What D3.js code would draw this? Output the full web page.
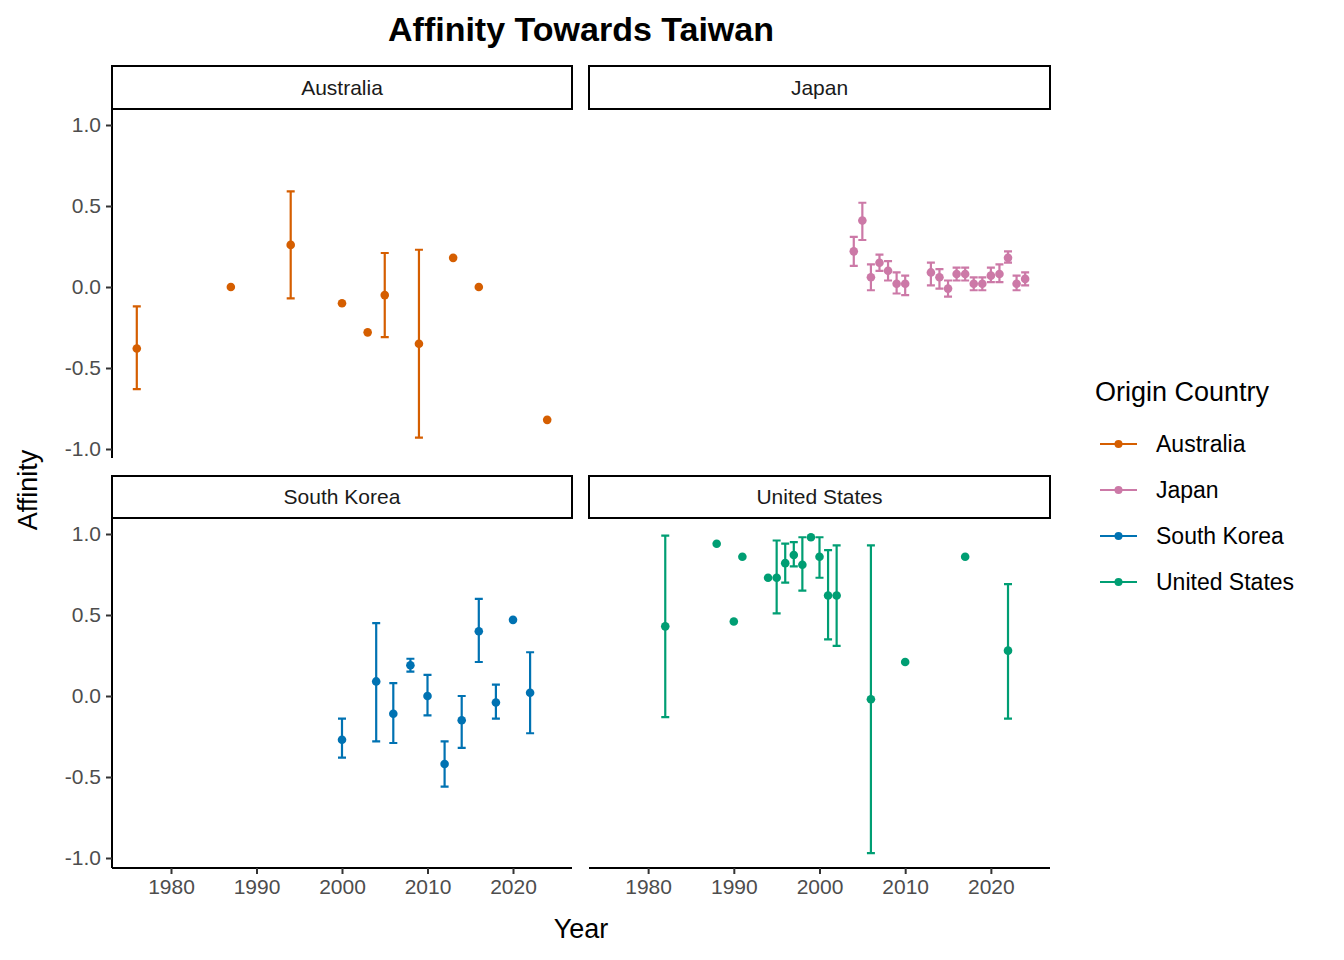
<!DOCTYPE html>
<html><head><meta charset="utf-8">
<script src="https://cdn.jsdelivr.net/npm/d3@7"></script>
<style>body{margin:0;background:#fff}text{font-family:"Liberation Sans",Arial,sans-serif}</style>
</head><body><svg id="c" width="1344" height="960"></svg>
<script>
const countries = ["Australia","Japan","South Korea","United States"];
const colors = ["#D55E00","#CC79A7","#0072B2","#009E73"];
const yTicks = [1.0,0.5,0.0,-0.5,-1.0];
const xTicks = [1980,1990,2000,2010,2020];
// [year, value, upper, lower] ; null = no error bar
const australia = [[1976,-0.38,-0.12,-0.63],[1987,0.0,null,null],[1994,0.26,0.59,-0.07],[2000,-0.10,null,null],[2003,-0.28,null,null],[2005,-0.05,0.21,-0.31],[2009,-0.35,0.23,-0.93],[2013,0.18,null,null],[2016,0.0,null,null],[2024,-0.82,null,null]];
const japan = [[2004,0.22,0.31,0.13],[2005,0.41,0.52,0.29],[2006,0.06,0.14,-0.02],[2007,0.15,0.2,0.1],[2008,0.1,0.16,0.04],[2009,0.02,0.09,-0.04],[2010,0.02,0.07,-0.05],[2013,0.09,0.15,0.01],[2014,0.06,0.11,-0.01],[2015,-0.01,0.04,-0.06],[2016,0.08,0.12,0.04],[2017,0.08,0.12,0.04],[2018,0.02,0.06,-0.02],[2019,0.02,0.06,-0.02],[2020,0.07,0.12,0.03],[2021,0.08,0.14,0.03],[2022,0.18,0.22,0.15],[2023,0.02,0.07,-0.02],[2024,0.05,0.09,0.01]];
const southKorea = [[2000,-0.27,-0.14,-0.38],[2004,0.09,0.45,-0.28],[2006,-0.11,0.08,-0.29],[2008,0.19,0.23,0.15],[2010,0.0,0.13,-0.12],[2012,-0.42,-0.28,-0.56],[2014,-0.15,0.0,-0.32],[2016,0.40,0.6,0.21],[2018,-0.04,0.07,-0.14],[2020,0.47,null,null],[2022,0.02,0.27,-0.23]];
const unitedStates = [[1982,0.43,0.99,-0.13],[1988,0.94,null,null],[1990,0.46,null,null],[1991,0.86,null,null],[1994,0.73,null,null],[1995,0.73,0.96,0.51],[1996,0.82,0.94,0.70],[1997,0.87,0.95,0.80],[1998,0.81,0.98,0.65],[1999,0.98,null,null],[2000,0.86,0.98,0.73],[2001,0.62,0.90,0.35],[2002,0.62,0.93,0.31],[2006,-0.02,0.93,-0.97],[2010,0.21,null,null],[2017,0.86,null,null],[2022,0.28,0.69,-0.14]];
const datasets = [australia,japan,southKorea,unitedStates];

const svg = d3.select("#c");
const cols = [[112,572],[589,1050]];
const rows = [{strip:[66,109],panel:[109,458]},{strip:[476,518],panel:[518,868]}];
svg.append("text").attr("x",581).attr("y",41).attr("text-anchor","middle").attr("font-size",34).attr("font-weight","bold").text("Affinity Towards Taiwan");

countries.forEach((c,i)=>{
  const col=cols[i%2], row=rows[Math.floor(i/2)];
  const x=d3.scaleLinear().domain([1973.1,2026.9]).range(col);
  const y=d3.scaleLinear().domain([-1,1]).range(row.panel[0]===109?[449,125]:[858,534]);
  svg.append("rect").attr("x",col[0]).attr("y",row.strip[0]).attr("width",col[1]-col[0]).attr("height",row.strip[1]-row.strip[0]).attr("fill","#fff").attr("stroke","#000").attr("stroke-width",2);
  svg.append("text").attr("x",(col[0]+col[1])/2).attr("y",(row.strip[0]+row.strip[1])/2+7).attr("text-anchor","middle").attr("font-size",21).attr("fill","#1a1a1a").text(c);
  if(i%2===0){
    const ax=svg.append("g").attr("transform",`translate(${col[0]},0)`).call(d3.axisLeft(y).tickValues(yTicks).tickFormat(d3.format(".1f")).tickSize(6).tickPadding(5));
    ax.select(".domain").attr("d",`M0,${row.panel[0]}V${row.panel[1]}`).attr("stroke-width",2);
    ax.selectAll(".tick line").attr("stroke","#333").attr("stroke-width",2);
    ax.selectAll("text").attr("font-size",21).attr("fill","#4d4d4d").text(d=>d3.format(".1f")(d).replace("−","-"));
  }
  if(i>=2){
    const ax=svg.append("g").attr("transform",`translate(0,${row.panel[1]})`).call(d3.axisBottom(x).tickValues(xTicks).tickFormat(d3.format("d")).tickSize(6).tickPadding(5));
    ax.select(".domain").attr("d",`M${col[0]},0H${col[1]}`).attr("stroke-width",2);
    ax.selectAll(".tick line").attr("stroke","#333").attr("stroke-width",2);
    ax.selectAll("text").attr("font-size",21).attr("fill","#4d4d4d");
  }
  const g=svg.append("g");
  datasets[i].forEach(d=>{
    if(d[2]!==null){
      const cx=x(d[0]);
      g.append("path").attr("d",`M${cx-4},${y(d[2])}H${cx+4}M${cx},${y(d[2])}V${y(d[3])}M${cx-4},${y(d[3])}H${cx+4}`).attr("stroke",colors[i]).attr("stroke-width",2.2).attr("fill","none");
    }
    g.append("circle").attr("cx",x(d[0])).attr("cy",y(d[1])).attr("r",4.3).attr("fill",colors[i]);
  });
});
svg.append("text").attr("x",581).attr("y",938).attr("text-anchor","middle").attr("font-size",27).text("Year");
svg.append("text").attr("transform","translate(37,490) rotate(-90)").attr("text-anchor","middle").attr("font-size",27).text("Affinity");
svg.append("text").attr("x",1095).attr("y",401).attr("font-size",27).text("Origin Country");
countries.forEach((c,i)=>{
  const yy=444+i*46;
  svg.append("line").attr("x1",1100).attr("x2",1137).attr("y1",yy).attr("y2",yy).attr("stroke",colors[i]).attr("stroke-width",2.2);
  svg.append("circle").attr("cx",1118.5).attr("cy",yy).attr("r",4).attr("fill",colors[i]);
  svg.append("text").attr("x",1156).attr("y",yy+8).attr("font-size",23).text(c);
});
</script></body></html>
